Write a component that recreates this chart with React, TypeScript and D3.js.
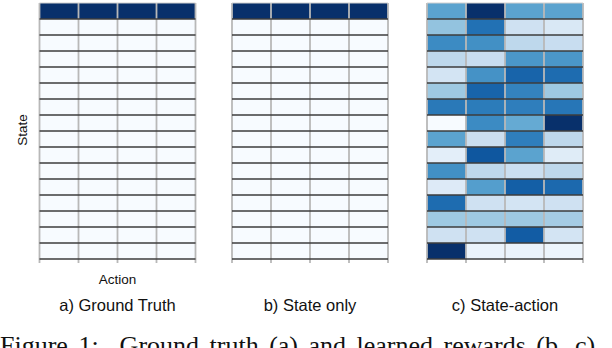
import React from "react";
import * as d3 from "d3";

const states = d3.range(16).map((i) => `s${i + 1}`);
const actions = ["a1", "a2", "a3", "a4"];

const groundTruth: number[][] = [
  [1, 1, 1, 1],
  ...d3.range(15).map(() => [0, 0, 0, 0]),
];
const stateOnly: number[][] = [
  [1, 1, 1, 1],
  ...d3.range(15).map(() => [0, 0, 0, 0]),
];
const stateAction: number[][] = [
  [0.55, 1.0, 0.55, 0.55],
  [0.4, 0.75, 0.2, 0.15],
  [0.65, 0.63, 0.27, 0.23],
  [0.27, 0.23, 0.6, 0.6],
  [0.18, 0.62, 0.8, 0.77],
  [0.37, 0.8, 0.68, 0.37],
  [0.72, 0.71, 0.7, 0.73],
  [0.0, 0.65, 0.52, 1.0],
  [0.55, 0.22, 0.7, 0.27],
  [0.1, 0.85, 0.55, 0.12],
  [0.63, 0.27, 0.22, 0.27],
  [0.13, 0.57, 0.82, 0.78],
  [0.77, 0.2, 0.18, 0.2],
  [0.37, 0.37, 0.37, 0.35],
  [0.2, 0.2, 0.83, 0.18],
  [1.0, 0.06, 0.06, 0.05],
];

const panelTitles = ["a) Ground Truth", "b) State only", "c) State-action"];
const panelData = [groundTruth, stateOnly, stateAction];
const panelLefts = [39.5, 232, 427];

const W = 612;
const H = 348;
const PW = 156;
const TOP = 3;
const PH = 256;

const color = d3.scaleSequential(d3.interpolateBlues).domain([0, 1]);

function Panel({ data, left, title, showAxisLabels }: any) {
  const x = d3.scaleBand().domain(actions).range([left, left + PW]);
  const y = d3.scaleBand().domain(states).range([TOP, TOP + PH]);
  const cx = left + PW / 2;
  return (
    <g>
      {states.map((s, i) =>
        actions.map((a, j) => (
          <rect
            key={s + a}
            x={x(a)}
            y={y(s)}
            width={x.bandwidth()}
            height={y.bandwidth()}
            fill={color(data[i][j])}
          />
        ))
      )}
      {[...actions.map((a) => x(a) as number), left + PW].map((vx, k) => (
        <line
          key={"v" + k}
          x1={vx}
          x2={vx}
          y1={TOP}
          y2={TOP + PH + 4}
          stroke="#b8b8b8"
          strokeWidth={1.8}
        />
      ))}
      {[...states.slice(1).map((s) => y(s) as number), TOP + PH].map((hy, k) => (
        <line
          key={"h" + k}
          x1={left}
          x2={left + PW}
          y1={hy}
          y2={hy}
          stroke="#3c3c3c"
          strokeWidth={1.7}
        />
      ))}
      <line x1={left} x2={left + PW} y1={TOP} y2={TOP} stroke="#d0d0d0" strokeWidth={1} />
      {showAxisLabels && (
        <>
          <text
            x={cx}
            y={284}
            textAnchor="middle"
            fontFamily="Liberation Sans, Arial, sans-serif"
            fontSize={13.5}
            fill="#111"
          >
            Action
          </text>
          <text
            transform={`translate(27,${TOP + PH / 2 - 1}) rotate(-90)`}
            textAnchor="middle"
            fontFamily="Liberation Sans, Arial, sans-serif"
            fontSize={13.5}
            fill="#111"
          >
            State
          </text>
        </>
      )}
      <text
        x={cx}
        y={311}
        textAnchor="middle"
        fontFamily="Liberation Sans, Arial, sans-serif"
        fontSize={16.5}
        fill="#111"
      >
        {title}
      </text>
    </g>
  );
}

export default function App() {
  return (
    <svg
      width={W}
      height={H}
      viewBox={`0 0 ${W} ${H}`}
      style={{ position: "absolute", left: 0, top: 0, background: "#fff" }}
    >
      <rect width={W} height={H} fill="#fff" />
      {panelData.map((d, i) => (
        <Panel
          key={i}
          data={d}
          left={panelLefts[i]}
          title={panelTitles[i]}
          showAxisLabels={i === 0}
        />
      ))}
      <text
        x={0}
        y={354}
        fontFamily="Liberation Serif, Times New Roman, serif"
        fontSize={26}
        fill="#111"
        wordSpacing={4}
        xmlSpace="preserve"
      >
        Figure 1:  Ground truth (a) and learned rewards (b, c)
      </text>
    </svg>
  );
}
